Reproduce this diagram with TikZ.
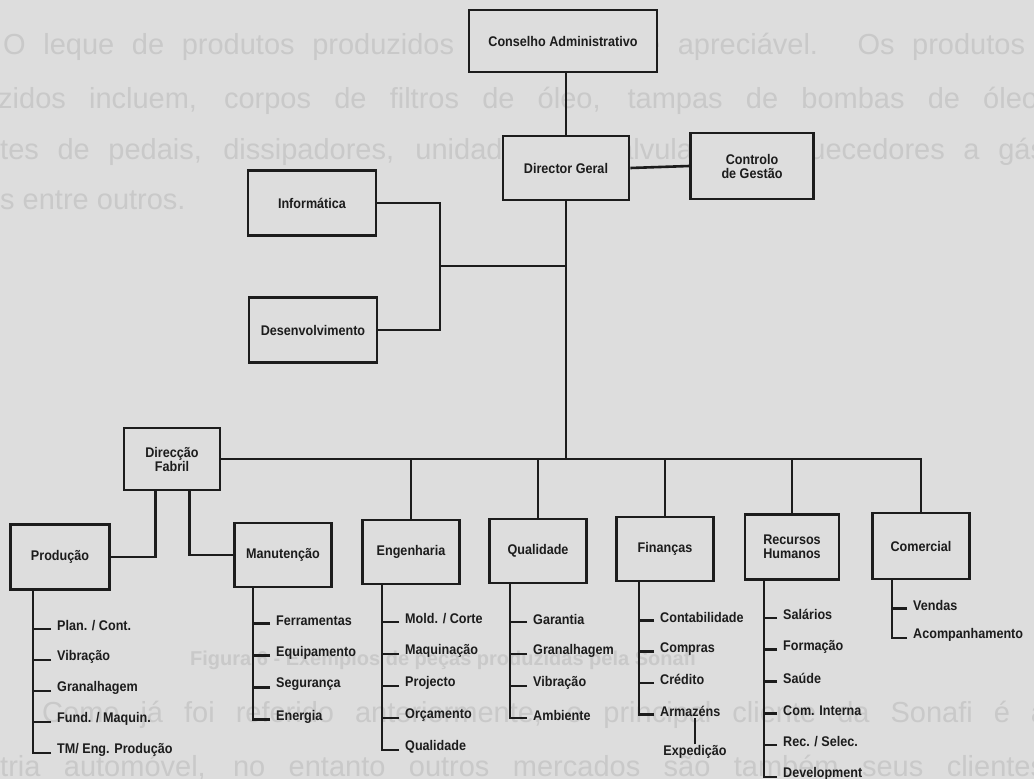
\documentclass[tikz,border=0pt]{standalone}
\usepackage{fontspec}
\setmainfont{Liberation Sans}
\newfontfamily\chartfont[FakeStretch=0.9]{Liberation Sans}
\usetikzlibrary{positioning}
\definecolor{paper}{RGB}{221,221,221}
\definecolor{ink}{RGB}{28,28,28}
\definecolor{ghost}{RGB}{201,201,201}

\begin{document}
\begin{tikzpicture}[x=1pt, y=-1pt,
  every node/.style={font=\chartfont\bfseries\fontsize{14}{14}\selectfont, text=ink},
  unit/.style={rectangle, draw=ink, fill=paper, line width=2.6pt, minimum width=97pt, minimum height=64pt, align=center, inner sep=2pt},
  item/.style={anchor=west, inner xsep=6pt, inner ysep=1pt},
  link/.style={draw=ink, line width=2.6pt},
  thinlink/.style={draw=ink, line width=1.7pt},
  ghosttext/.style={font=\fontsize{29}{32}\selectfont, text=ghost, anchor=west, inner sep=0pt}
]

% page and the faint text behind the chart
\fill[paper] (0,0) rectangle (1034,779);
\useasboundingbox (0,0) rectangle (1034,779);
\begin{scope}
\clip (0,0) rectangle (1034,779);
\node[ghosttext] (p1) at (3,47) {\makebox[1022pt][s]{O leque de produtos produzidos pela Sonafi é apreciável. Os produtos}};
\node[ghosttext] (p2) at (-2,101) {\makebox[1040pt][s]{zidos incluem, corpos de filtros de óleo, tampas de bombas de óleo}};
\node[ghosttext] (p3) at (0,152) {\makebox[1045pt][s]{tes de pedais, dissipadores, unidades de válvulas de aquecedores a gás}};
\node[ghosttext] (p4) at (0,200) {s entre outros.};
\node[ghosttext, font=\bfseries\fontsize{20}{24}\selectfont] (cap) at (190,660) {Figura 6 - Exemplos de peças produzidas pela Sonafi};
\node[ghosttext] (p5) at (42,715) {\makebox[1005pt][s]{Como já foi referido anteriormente, o principal cliente da Sonafi é a}};
\node[ghosttext] (p6) at (0,768) {\makebox[1045pt][s]{tria automóvel, no entanto outros mercados são também seus clientes}};
\end{scope}

% top of the chart
\node[unit, minimum width=188pt, minimum height=62pt] (ca) at (563,41) {Conselho Administrativo};
\node[unit, minimum width=126pt] (dg) at (566,168) {Director Geral};
\node[unit, minimum width=123pt, minimum height=66pt] (cg) at (752,166) {Controlo\\de Gestão};
\node[unit, minimum width=128pt, minimum height=65pt] (inf) at (312,203) {Informática};
\node[unit, minimum width=128pt, minimum height=65pt] (dev) at (313,330) {Desenvolvimento};

% departments
\node[unit, minimum width=96pt, minimum height=62pt] (df) at (172,459) {Direcção\\Fabril};
\node[unit, minimum width=99pt, minimum height=65pt] (pr) at (60,557) {Produção};
\node[unit] (mn) at (283,555) {Manutenção};
\node[unit] (en) at (411,552) {Engenharia};
\node[unit] (ql) at (538,551) {Qualidade};
\node[unit] (fi) at (665,549) {Finanças};
\node[unit, minimum width=94pt, minimum height=65pt] (rh) at (792,547) {Recursos\\Humanos};
\node[unit, minimum height=66pt] (co) at (921,546) {Comercial};

% links between boxes
\coordinate (br) at (440,266);
\draw[link] (dg.north) -- (dg.north |- ca.south);
\draw[link] (dg.east) -- (cg.west);
\draw[link] (inf.east) -| (br) |- (dev.east);
\draw[thinlink] (br) -- (br -| dg.south);
\draw[thinlink] (dg.south) -- (dg.south |- df.east);
\draw[link] (df.east) -| (co.north);
\foreach \n in {en, ql, fi, rh}
  \draw[link] (\n.north) -- (\n.north |- df.east);
\draw[link] ([xshift=33pt]df.south west) |- (pr.east);
\draw[link] ([xshift=-32pt]df.south east) |- (mn.west);

% sections under each box
\coordinate (prs) at (pr.south -| 33,0);
\foreach \txt [count=\i] in {Plan. / Cont., Vibração, Granalhagem, Fund. / Maquin., TM/ Eng. Produção} {
  \node[item] (pr\i) at (51,595+31*\i) {\txt};
  \draw[link] ([yshift=-3pt]pr\i.west) -- ([yshift=-3pt]pr\i.west -| prs);
}
\draw[link] (prs) |- ([yshift=-3pt]pr5.west);

\coordinate (mns) at (mn.south -| 253,0);
\foreach \txt [count=\i] in {Ferramentas, Equipamento, Segurança, Energia} {
  \node[item] (mn\i) at (270,588.5+32*\i) {\txt};
  \draw[link] ([yshift=-3pt]mn\i.west) -- ([yshift=-3pt]mn\i.west -| mns);
}
\draw[link] (mns) |- ([yshift=-3pt]mn4.west);

\coordinate (ens) at (en.south -| 382,0);
\foreach \txt [count=\i] in {Mold. / Corte, Maquinação, Projecto, Orçamento, Qualidade} {
  \node[item] (en\i) at (399,587+32*\i) {\txt};
  \draw[link] ([yshift=-3pt]en\i.west) -- ([yshift=-3pt]en\i.west -| ens);
}
\draw[link] (ens) |- ([yshift=-3pt]en5.west);

\coordinate (qls) at (ql.south -| 510,0);
\foreach \txt [count=\i] in {Garantia, Granalhagem, Vibração, Ambiente} {
  \node[item] (ql\i) at (527,587+32*\i) {\txt};
  \draw[link] ([yshift=-3pt]ql\i.west) -- ([yshift=-3pt]ql\i.west -| qls);
}
\draw[link] (qls) |- ([yshift=-3pt]ql4.west);

\coordinate (fis) at (fi.south -| 639,0);
\foreach \txt [count=\i] in {Contabilidade, Compras, Crédito, Armazéns} {
  \node[item] (fi\i) at (654,586+31.3*\i) {\txt};
  \draw[link] ([yshift=-3pt]fi\i.west) -- ([yshift=-3pt]fi\i.west -| fis);
}
\draw[link] (fis) |- ([yshift=-3pt]fi4.west);
\node[inner sep=1pt] (ex) at (695,752) {Expedição};
\draw[thinlink] (ex.north) -- (ex.north |- fi4.south);

\coordinate (rhs) at (rh.south -| 764,0);
\foreach \txt [count=\i] in {Salários, Formação, Saúde, Com. Interna, Rec. / Selec., Development} {
  \node[item] (rh\i) at (777,583+31.8*\i) {\txt};
  \draw[link] ([yshift=-3pt]rh\i.west) -- ([yshift=-3pt]rh\i.west -| rhs);
}
\draw[link] (rhs) |- ([yshift=-3pt]rh6.west);

\coordinate (cos) at (co.south -| 892,0);
\foreach \txt [count=\i] in {Vendas, Acompanhamento} {
  \node[item] (co\i) at (907,576+29.5*\i) {\txt};
  \draw[link] ([yshift=-3pt]co\i.west) -- ([yshift=-3pt]co\i.west -| cos);
}
\draw[link] (cos) |- ([yshift=-3pt]co2.west);

\end{tikzpicture}
\end{document}
